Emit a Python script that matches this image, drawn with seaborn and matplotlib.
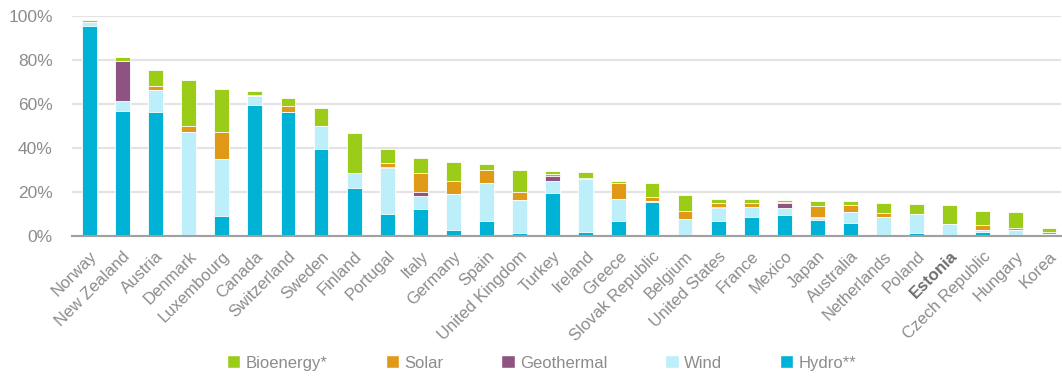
import numpy as np
import pandas as pd
import seaborn as sns
import matplotlib.pyplot as plt
from matplotlib.patches import Patch

countries = ['Norway', 'New Zealand', 'Austria', 'Denmark', 'Luxembourg', 'Canada', 'Switzerland',
             'Sweden', 'Finland', 'Portugal', 'Italy', 'Germany', 'Spain', 'United Kingdom', 'Turkey',
             'Ireland', 'Greece', 'Slovak Republic', 'Belgium', 'United States', 'France', 'Mexico',
             'Japan', 'Australia', 'Netherlands', 'Poland', 'Estonia', 'Czech Republic', 'Hungary', 'Korea']

# shares of electricity generation, %
hydro = [95.5, 56.6, 56.3, 0.1, 9.2, 59.4, 56.3, 39.4, 21.6, 9.8, 12.1, 2.7, 6.6, 1.5, 19.5,
         2.0, 6.9, 15.6, 0.3, 6.8, 8.8, 9.5, 7.4, 5.9, 0.1, 1.2, 0.1, 2.0, 0.2, 0.6]
wind = [1.5, 4.9, 10.0, 47.2, 26.0, 4.0, 0.2, 10.6, 7.1, 21.3, 5.9, 16.3, 17.7, 14.8, 5.7,
        23.8, 9.9, 0.1, 7.3, 5.9, 4.3, 3.2, 0.8, 4.8, 8.5, 8.6, 5.3, 0.6, 2.4, 0.2]
geothermal = [0.0, 17.8, 0.0, 0.0, 0.0, 0.0, 0.0, 0.0, 0.0, 0.4, 2.1, 0.0, 0.0, 0.0, 2.1,
              0.0, 0.0, 0.0, 0.0, 0.6, 0.0, 2.1, 0.4, 0.0, 0.0, 0.0, 0.0, 0.0, 0.0, 0.0]
solar = [0.0, 0.1, 1.8, 2.5, 12.2, 0.6, 2.7, 0.1, 0.0, 1.6, 8.4, 6.2, 5.6, 3.6, 0.9,
         0.4, 7.4, 1.8, 3.9, 1.7, 1.9, 0.5, 5.1, 3.3, 2.0, 0.2, 0.0, 2.4, 1.0, 1.0]
bioenergy = [1.0, 2.0, 7.4, 20.9, 19.5, 1.7, 3.6, 7.9, 18.1, 6.2, 7.0, 8.3, 2.6, 10.0, 1.3,
             2.8, 1.0, 6.6, 7.1, 1.9, 1.8, 0.9, 2.3, 1.7, 4.4, 4.4, 8.5, 6.3, 7.3, 1.7]

sources = ['Hydro**', 'Wind', 'Geothermal', 'Solar', 'Bioenergy*']
colors = {'Hydro**': '#00B2D5', 'Wind': '#BDEFFB', 'Geothermal': '#8E5382',
          'Solar': '#E09A17', 'Bioenergy*': '#9BCC18'}

df = pd.DataFrame({'Country': countries, 'Hydro**': hydro, 'Wind': wind,
                   'Geothermal': geothermal, 'Solar': solar, 'Bioenergy*': bioenergy})

sns.set_style('white')
plt.rcParams['font.family'] = ['Liberation Sans', 'DejaVu Sans']
text_col = '#8C8C8C'

fig, ax = plt.subplots(figsize=(10.62, 3.77), dpi=100)
fig.subplots_adjust(left=0.068, right=0.999, top=0.958, bottom=0.374)

# stacked bars: draw cumulative totals from top layer down
cum = df[sources].cumsum(axis=1)
for src in reversed(sources):
    sns.barplot(x=df['Country'], y=cum[src], color=colors[src], width=0.45,
                saturation=1, ax=ax, linewidth=0.6, edgecolor='white')

ax.set_ylim(0, 100)
ax.set_xlim(-0.52, 29.36)
ax.set_yticks(np.arange(0, 101, 20))
ax.set_yticklabels([f'{v}%' for v in range(0, 101, 20)], fontsize=12.5, color=text_col)
ax.yaxis.grid(True, color='#E3E3E3', linewidth=1.5)
ax.set_axisbelow(True)
for s in ['top', 'right', 'left']:
    ax.spines[s].set_visible(False)
ax.spines['bottom'].set_color('#A0A0A0')
ax.spines['bottom'].set_linewidth(1.5)
ax.tick_params(axis='y', length=0, pad=14)
ax.tick_params(axis='x', length=0, pad=9)
ax.set_xlabel('')
ax.set_ylabel('')

ax.set_xticks(range(len(countries)))
ax.set_xticklabels(countries, rotation=45, ha='right', rotation_mode='anchor',
                   fontsize=12, color=text_col)
for lab in ax.get_xticklabels():
    if lab.get_text() == 'Estonia':
        lab.set_fontweight('bold')
        lab.set_color('#6E6E6E')

legend_order = ['Bioenergy*', 'Solar', 'Geothermal', 'Wind', 'Hydro**']
handles = [Patch(facecolor=colors[s], label=s) for s in legend_order]
fig.legend(handles=handles, loc='center', bbox_to_anchor=(0.51, 0.037), ncol=5,
           frameon=False, fontsize=12, labelcolor=text_col, handlelength=0.8,
           handleheight=0.8, handletextpad=0.3, columnspacing=3.5)

plt.savefig('out.png', dpi=100)
